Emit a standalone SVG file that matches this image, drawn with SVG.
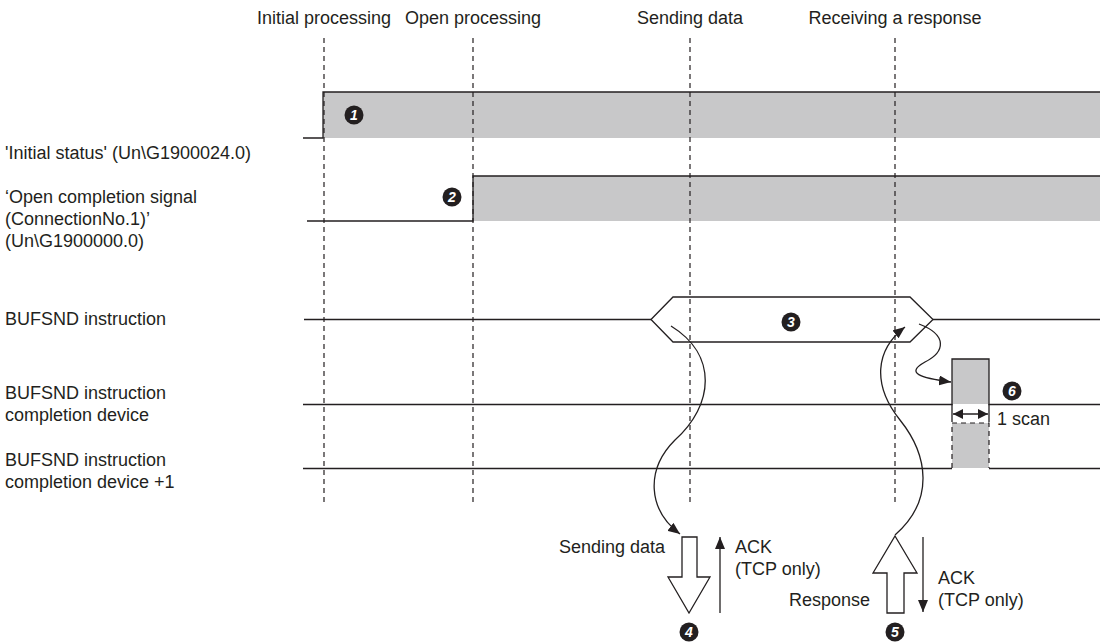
<svg xmlns="http://www.w3.org/2000/svg" width="1100" height="642" viewBox="0 0 1100 642">
  <defs>
    <style>
      .t { font-family: "Liberation Sans", Arial, sans-serif; font-size: 18px; fill: #231f20; }
      .ln { fill: none; stroke: #231f20; stroke-width: 1.3; }
      .dash { fill: none; stroke: #231f20; stroke-width: 1.2; stroke-dasharray: 5 4; }
      .band { fill: #c8c8c9; }
      .num { fill: #231f20; }
      .numt { font-family: "Liberation Sans", Arial, sans-serif; font-size: 14px; font-weight: bold; font-style: italic; fill: #ffffff; text-anchor: middle; }
      .hollow { fill: #ffffff; stroke: #231f20; stroke-width: 1.3; }
    </style>
    <marker id="ah" viewBox="0 0 12 10" refX="12" refY="5" markerWidth="12" markerHeight="10" markerUnits="userSpaceOnUse" orient="auto">
      <path d="M0,0 L12,5 L0,10 Z" fill="#231f20"/>
    </marker>
    <marker id="ahs" viewBox="0 0 10 10" refX="10" refY="5" markerWidth="10" markerHeight="10" markerUnits="userSpaceOnUse" orient="auto-start-reverse">
      <path d="M0,0 L10,5 L0,10 Z" fill="#231f20"/>
    </marker>
  </defs>

  <!-- phase labels -->
  <g id="phases">
    <text class="t" x="324" y="24" text-anchor="middle">Initial processing</text>
    <text class="t" x="473" y="24" text-anchor="middle">Open processing</text>
    <text class="t" x="690" y="24" text-anchor="middle">Sending data</text>
    <text class="t" x="895" y="24" text-anchor="middle">Receiving a response</text>
  </g>

  <!-- signal names -->
  <g id="signal-names">
    <text class="t" x="5" y="159">'Initial status' (Un\G1900024.0)</text>
    <text class="t" x="5" y="203">‘Open completion signal</text>
    <text class="t" x="5" y="225">(ConnectionNo.1)’</text>
    <text class="t" x="5" y="247">(Un\G1900000.0)</text>
    <text class="t" x="5" y="325">BUFSND instruction</text>
    <text class="t" x="5" y="399">BUFSND instruction</text>
    <text class="t" x="5" y="421">completion device</text>
    <text class="t" x="5" y="466">BUFSND instruction</text>
    <text class="t" x="5" y="488">completion device +1</text>
  </g>

  <!-- 'Initial status' -->
  <g id="sig-initial">
    <rect class="band" x="323" y="92" width="777" height="46"/>
    <path class="ln" d="M303,138 H323 V92 H1100"/>
  </g>

  <!-- open completion signal -->
  <g id="sig-open">
    <rect class="band" x="473" y="176" width="627" height="45"/>
    <path class="ln" d="M307,221 H473 V176 H1100"/>
  </g>

  <!-- BUFSND instruction -->
  <g id="sig-bufsnd">
    <path class="ln" d="M304,319.5 H651"/>
    <path class="ln" d="M933,319.5 H1100"/>
    <path class="ln" fill="#ffffff" d="M651,319.5 L673,297 H910 L933,319.5 L910,342 H673 Z"/>
  </g>

  <!-- completion device -->
  <g id="sig-complete">
    <rect class="band" x="952" y="359" width="37" height="45"/>
    <path class="ln" d="M303,404.5 H952 V359 H989 V404.5 H1100"/>
  </g>

  <!-- completion device +1 -->
  <g id="sig-complete1">
    <rect class="band" x="952" y="423" width="37" height="45"/>
    <path class="dash" d="M952,468 V423 H989 V468" stroke-dasharray="4 3"/>
    <path class="ln" d="M303,468.5 H952 M989,468.5 H1100"/>
  </g>

  <!-- one scan width -->
  <g id="scan-width">
    <path class="ln" d="M952,404 V422 M989,404 V422"/>
    <line class="ln" x1="953" y1="414" x2="988" y2="414" marker-start="url(#ahs)" marker-end="url(#ahs)"/>
    <text class="t" x="997" y="425">1 scan</text>
  </g>

  <!-- timing guides -->
  <g id="guides">
    <line class="dash" x1="324" y1="38" x2="324" y2="506"/>
    <line class="dash" x1="473" y1="38" x2="473" y2="506"/>
    <line class="dash" x1="690" y1="38" x2="690" y2="506"/>
    <line class="dash" x1="895" y1="38" x2="895" y2="506"/>
  </g>

  <!-- send / receive arrows -->
  <g id="send-data">
    <polygon class="hollow" points="682,537 697,537 697,577 710,577 689,613 668,577 682,577"/>
    <text class="t" x="665" y="553" text-anchor="end">Sending data</text>
  </g>
  <g id="ack-send">
    <line class="ln" x1="720" y1="613" x2="720" y2="537" marker-end="url(#ah)"/>
    <text class="t" x="735" y="553">ACK</text>
    <text class="t" x="735" y="575">(TCP only)</text>
  </g>
  <g id="response">
    <polygon class="hollow" points="895,536 917,573 904,573 904,613 887,613 887,573 873,573"/>
    <text class="t" x="870" y="606" text-anchor="end">Response</text>
  </g>
  <g id="ack-recv">
    <line class="ln" x1="923" y1="537" x2="923" y2="612" marker-end="url(#ah)"/>
    <text class="t" x="938" y="584">ACK</text>
    <text class="t" x="938" y="606">(TCP only)</text>
  </g>

  <!-- flow connectors -->
  <g id="connectors">
    <path class="ln" d="M671,326 C718,355 714,405 675,440 C645,470 648,510 680,534" marker-end="url(#ah)"/>
    <path class="ln" d="M895,535 C935,500 928,455 900,420 C872,385 875,350 905,327" marker-end="url(#ah)"/>
    <path class="ln" d="M919,324 C948,335 945,352 925,362 C905,373 920,378 951,382" marker-end="url(#ah)"/>
  </g>

  <!-- step markers -->
  <g id="step1"><circle class="num" cx="354" cy="115" r="9.5"/><text class="numt" x="354" y="120">1</text></g>
  <g id="step2"><circle class="num" cx="452" cy="197" r="9.5"/><text class="numt" x="452" y="202">2</text></g>
  <g id="step3"><circle class="num" cx="791" cy="322" r="9.5"/><text class="numt" x="791" y="327">3</text></g>
  <g id="step4"><circle class="num" cx="689" cy="632" r="9.5"/><text class="numt" x="689" y="637">4</text></g>
  <g id="step5"><circle class="num" cx="895" cy="632" r="9.5"/><text class="numt" x="895" y="637">5</text></g>
  <g id="step6"><circle class="num" cx="1012" cy="391" r="9.5"/><text class="numt" x="1012" y="396">6</text></g>
</svg>
